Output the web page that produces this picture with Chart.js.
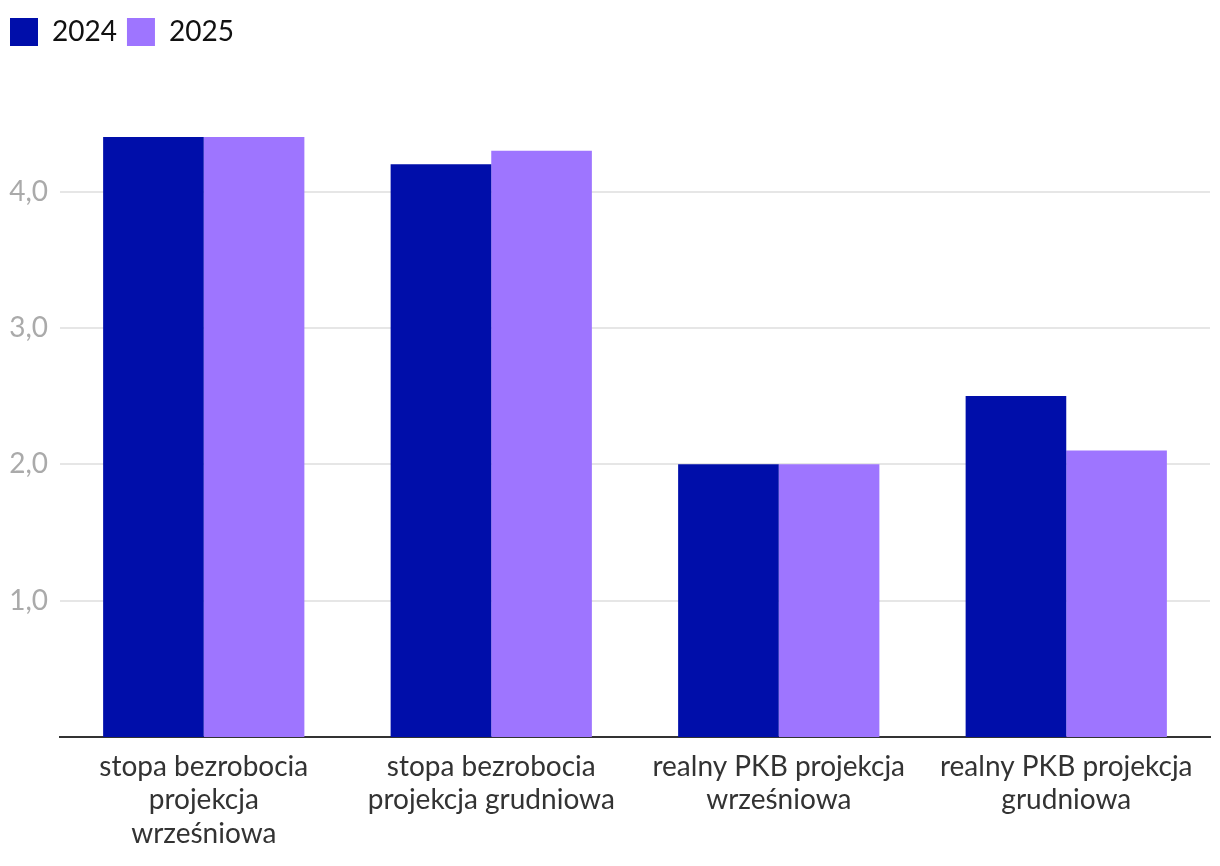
<!DOCTYPE html>
<html>
<head>
<meta charset="utf-8">
<script src="https://cdn.jsdelivr.net/npm/chart.js@4"></script>
<style>
html,body{margin:0;padding:0;background:#fff;}
#wrap{width:1220px;height:866px;position:relative;}
</style>
</head>
<body>
<div id="wrap"><canvas id="c" width="1220" height="866"></canvas></div>
<script>
const categories = [
  ["stopa bezrobocia", "projekcja", "wrześniowa"],
  ["stopa bezrobocia", "projekcja grudniowa"],
  ["realny PKB projekcja", "wrześniowa"],
  ["realny PKB projekcja", "grudniowa"]
];
const seriesNames = ["2024", "2025"];
const values2024 = [4.4, 4.2, 2.0, 2.5];
const values2025 = [4.4, 4.3, 2.0, 2.1];
const yTicks = [1, 2, 3, 4];

const legendHeightPlugin = {
  id: 'legendHeight',
  beforeInit(chart) {
    const orig = chart.legend.fit;
    chart.legend.fit = function () {
      orig.call(this);
      this.height = 129;
    };
  }
};

new Chart(document.getElementById('c'), {
  type: 'bar',
  data: {
    labels: categories,
    datasets: [
      { label: seriesNames[0], data: values2024, backgroundColor: '#000EAA', borderWidth: 0 },
      { label: seriesNames[1], data: values2025, backgroundColor: '#9E75FF', borderWidth: 0 }
    ]
  },
  plugins: [legendHeightPlugin],
  options: {
    responsive: false,
    animation: false,
    layout: { padding: { left: 0, right: 10, top: 8, bottom: 2 } },
    datasets: { bar: { barPercentage: 1, categoryPercentage: 0.7 } },
    plugins: {
      tooltip: { enabled: false },
      legend: {
        position: 'top',
        align: 'start',
        labels: {
          boxWidth: 28, boxHeight: 28, padding: 10,
          color: '#111',
          font: { family: 'Lato', size: 28 }
        }
      }
    },
    scales: {
      x: {
        grid: { display: false, drawTicks: false },
        border: { display: true, color: '#333', width: 2 },
        ticks: {
          color: '#333', padding: 14, maxRotation: 0, autoSkip: false,
          font: { family: 'Lato', size: 28, lineHeight: 1.18 }
        }
      },
      y: {
        min: 0, max: 4.4,
        afterFit(scale) { scale.width = 60; },
        afterBuildTicks(scale) { scale.ticks = yTicks.map(v => ({ value: v })); },
        grid: { color: '#e6e6e6', lineWidth: 2, drawTicks: false },
        border: { display: false },
        ticks: {
          color: '#aaa', padding: 12,
          font: { family: 'Lato', size: 28 },
          callback: v => v.toFixed(1).replace('.', ',')
        }
      }
    }
  }
});
</script>
</body>
</html>
